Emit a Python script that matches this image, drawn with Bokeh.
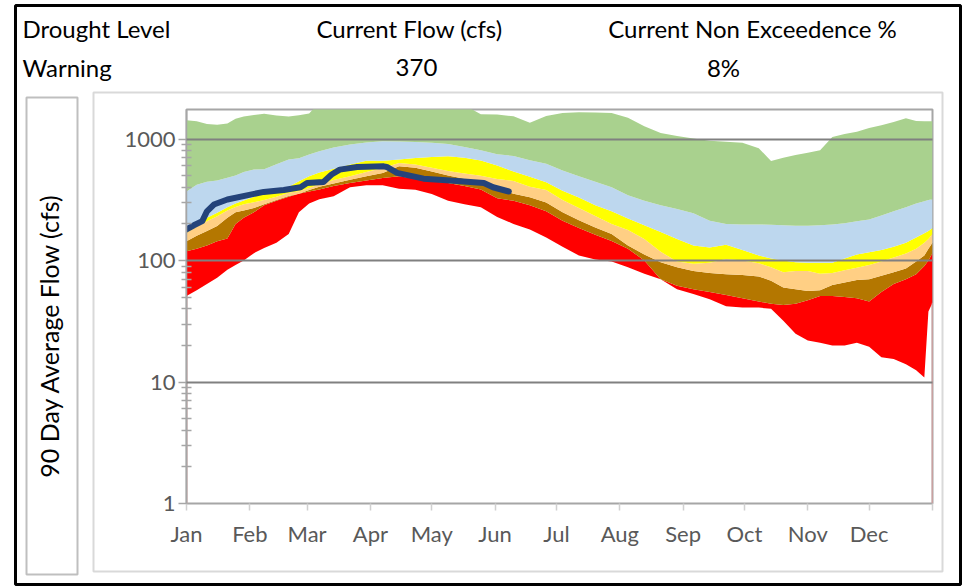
import math
from bokeh.plotting import figure
from bokeh.models import FixedTicker, Label, BoxAnnotation, Range1d, GridBox, Column
from bokeh.embed import file_html
from bokeh.resources import INLINE

# ---------------- data ----------------
drought_level = "Warning"
current_flow = 370
non_exceedence = 8

month_days = [0, 31, 59, 90, 120, 151, 181, 212, 243, 273, 304, 334, 365]
month_labels = ["Jan", "Feb", "Mar", "Apr", "May", "Jun", "Jul", "Aug", "Sep", "Oct", "Nov", "Dec", ""]

days = [0, 5, 10, 15, 20, 24, 28, 33, 38, 44, 50, 55, 60, 65, 72, 80, 88, 96, 104, 112,
        120, 128, 136, 144, 152, 160, 168, 176, 184, 192, 200, 208, 216, 224, 232, 240,
        248, 256, 264, 272, 280, 286, 292, 298, 304, 310, 316, 322, 328, 334, 340, 346,
        352, 357, 361, 363, 365]

flow_min = [51, 57, 64, 72, 84, 92, 100, 115, 127, 140, 165, 250, 295, 320, 338, 400, 416, 416, 390, 383,
            352, 310, 290, 275, 228, 200, 180, 155, 130, 110, 102, 98, 88, 78, 70, 58,
            53, 48, 42, 41, 41, 40, 32, 25, 22, 21, 20, 20, 21, 19.5, 16, 15.5,
            14, 12.5, 10.9, 38, 45]

pct_red = [119, 125, 133, 144, 152, 200, 225, 250, 285, 310, 335, 355, 370, 385, 410, 435, 455, 478, 494, 470,
           450, 435, 410, 385, 325, 310, 285, 255, 212, 185, 163, 145, 125, 100, 70, 62,
           58, 55, 52, 49, 46, 44, 43, 44, 47, 51, 51, 50, 49, 46, 55, 64,
           70, 77, 90, 100, 115]

pct_brown = [144, 160, 175, 192, 225, 250, 258, 270, 290, 315, 340, 355, 380, 405, 430, 463, 495, 526, 596, 580,
             540, 500, 470, 440, 390, 355, 332, 300, 250, 215, 187, 165, 133, 112, 97, 88,
             82, 79, 77, 76, 74, 68, 60, 58, 56, 57, 63, 66, 69, 70, 75, 80,
             86, 98, 110, 125, 140]

pct_tan = [169, 190, 210, 231, 258, 276, 290, 302, 315, 335, 362, 372, 395, 425, 460, 494, 535, 578, 635, 618,
           580, 545, 520, 498, 468, 452, 405, 380, 315, 270, 232, 200, 178, 150, 118, 98,
           94, 96, 103, 100, 95, 88, 80, 82, 82, 78, 79, 83, 87, 92, 98, 106,
           114, 125, 140, 150, 165]

pct_yellow = [185, 205, 225, 247, 275, 295, 312, 335, 355, 378, 405, 450, 495, 530, 570, 616, 664, 664, 680, 698,
              710, 720, 700, 665, 605, 540, 490, 440, 375, 330, 285, 255, 222, 195, 172, 150,
              133, 128, 135, 122, 110, 104, 100, 97, 96, 96, 96, 104, 112, 117, 122, 130,
              140, 155, 168, 175, 185]

pct_blue = [370, 420, 445, 455, 480, 500, 535, 560, 565, 620, 680, 695, 745, 795, 850, 900, 935, 957, 955, 945,
            930, 912, 860, 810, 750, 725, 670, 625, 550, 495, 445, 400, 345, 310, 285, 265,
            245, 212, 200, 198, 198, 197, 195, 193, 193, 195, 198, 203, 210, 218, 235, 255,
            275, 295, 308, 315, 320]

flow_max = [1425, 1400, 1330, 1310, 1340, 1470, 1530, 1580, 1617, 1560, 1530, 1570, 1620, 2000, 2200, 2300, 2400, 2400, 2400, 2300,
            2200, 2100, 1900, 1600, 1590, 1540, 1360, 1550, 1640, 1660, 1650, 1640, 1500, 1272, 1120, 1060,
            1010, 970, 950, 930, 840, 660, 700, 740, 770, 810, 1040, 1100, 1150, 1230, 1300, 1380,
            1480, 1410, 1400, 1400, 1400]

obs_days = [0, 3.6, 7.7, 10, 13.4, 20, 31.3, 37.8, 47.6, 55.8, 59, 67, 71, 75, 83.5, 96.5, 98, 103, 116, 129, 145.5, 150, 157.7]
obs_flow = [180, 195, 211, 254, 289, 318, 349, 367, 381, 401, 435, 443, 510, 560, 589, 596, 589, 526, 472, 455, 435, 401, 370]

band_colors = ["#FF0000", "#B47700", "#FFCF84", "#FFFF00", "#BDD7EE", "#A9D18E"]

# ---------------- chart figure ----------------
FONT = "Lato"
W, H = 968, 586
FL, FT, FR, FB = 186, 109, 932, 503   # plot-area edges in page px

p = figure(width=W, height=H, y_axis_type="log",
           x_range=Range1d(0, 365), y_range=Range1d(1, 1750),
           output_backend="svg", toolbar_location=None,
           min_border_left=FL, min_border_right=W - FR,
           min_border_top=FT, min_border_bottom=H - FB)
p.background_fill_color = "white"
p.border_fill_color = "white"
p.outline_line_color = "#A6A6A6"
p.outline_line_width = 2

curves = [flow_min, pct_red, pct_brown, pct_tan, pct_yellow, pct_blue, flow_max]
for i, col in enumerate(band_colors):
    p.varea(x=days, y1=curves[i], y2=curves[i + 1], fill_color=col, fill_alpha=1.0)

# thin red edges of the lowest band at both ends of the year
p.segment(x0=[days[0], days[-1]], y0=[1, 1], x1=[days[0], days[-1]], y1=[flow_min[0], flow_min[-1]],
          line_color="#E99A9A", line_width=1.5)

p.line(obs_days, obs_flow, line_color="#24437A", line_width=6, line_cap="round", line_join="round")

p.xgrid.visible = False
p.ygrid.ticker = FixedTicker(ticks=[1, 10, 100, 1000])
p.ygrid.grid_line_color = "#808080"
p.ygrid.grid_line_width = 2
p.ygrid.level = "overlay"

yax = p.yaxis[0]
yax.ticker = FixedTicker(ticks=[1, 10, 100, 1000],
                         minor_ticks=[m * 10 ** e for e in range(0, 4) for m in range(2, 10)])
yax.major_label_overrides = {1: "1", 10: "10", 100: "100", 1000: "1000"}
yax.axis_line_color = "#A6A6A6"
yax.axis_line_width = 1.5
yax.major_tick_line_color = "#A6A6A6"
yax.major_tick_line_width = 1.5
yax.major_tick_out = 8
yax.major_tick_in = 0
yax.minor_tick_line_color = "#A6A6A6"
yax.minor_tick_line_width = 1.5
yax.minor_tick_out = 5
yax.minor_tick_in = 5
yax.major_label_text_font = FONT
yax.major_label_text_font_size = "22px"
yax.major_label_text_color = "#595959"
yax.major_label_standoff = 3

xax = p.xaxis[0]
xax.ticker = FixedTicker(ticks=month_days)
xax.major_label_overrides = {d: lab for d, lab in zip(month_days, month_labels)}
xax.axis_line_color = None
xax.major_tick_line_color = "#D0D0D0"
xax.major_tick_line_width = 1.5
xax.major_tick_out = 7
xax.major_tick_in = 0
xax.minor_tick_line_color = None
xax.major_label_text_font = FONT
xax.major_label_text_font_size = "22px"
xax.major_label_text_color = "#595959"
xax.major_label_standoff = 9

# ---------------- transparent overlay (page-pixel coordinates) for header, boxes ----------------
ov = figure(width=W, height=H, x_range=Range1d(0, W), y_range=Range1d(H, 0),
            output_backend="svg", toolbar_location=None,
            x_axis_location=None, y_axis_location=None,
            min_border=0, min_border_left=0, min_border_right=0, min_border_top=0, min_border_bottom=0)
ov.outline_line_color = None
ov.background_fill_alpha = 0
ov.border_fill_alpha = 0
ov.xgrid.visible = False
ov.ygrid.visible = False


def box(l, t, r, b, color, width):
    ov.add_layout(BoxAnnotation(left=l, right=r, top=t, bottom=b,
                                fill_color=None, fill_alpha=0,
                                line_color=color, line_alpha=1.0, line_width=width))


def text(x, y, s, size, align="left", angle=0.0, color="black"):
    ov.add_layout(Label(x=x, y=y, text=s, text_font=FONT, text_font_size=size, text_color=color,
                        text_align=align, text_baseline="middle", angle=angle))


box(15, 5, 960, 584, "black", 3)
box(93, 92, 942, 571, "#D9D9D9", 2)
box(26, 97, 77, 574, "#BFBFBF", 2)

text(22, 28, "Drought Level", "24px")
text(22, 67, drought_level, "24px")
text(409, 28, "Current Flow (cfs)", "24px", align="center")
text(416, 67, str(current_flow), "24px", align="center")
text(752, 28, "Current Non Exceedence %", "24px", align="center")
text(723, 67, f"{non_exceedence}%", "24px", align="center")
text(48, 335, "90 Day Average Flow (cfs)", "25px", align="center", angle=math.pi / 2)

layout = GridBox(children=[(p, 0, 0), (Column(children=[ov]), 0, 0)])

open("out.html", "w").write(file_html(layout, INLINE))
